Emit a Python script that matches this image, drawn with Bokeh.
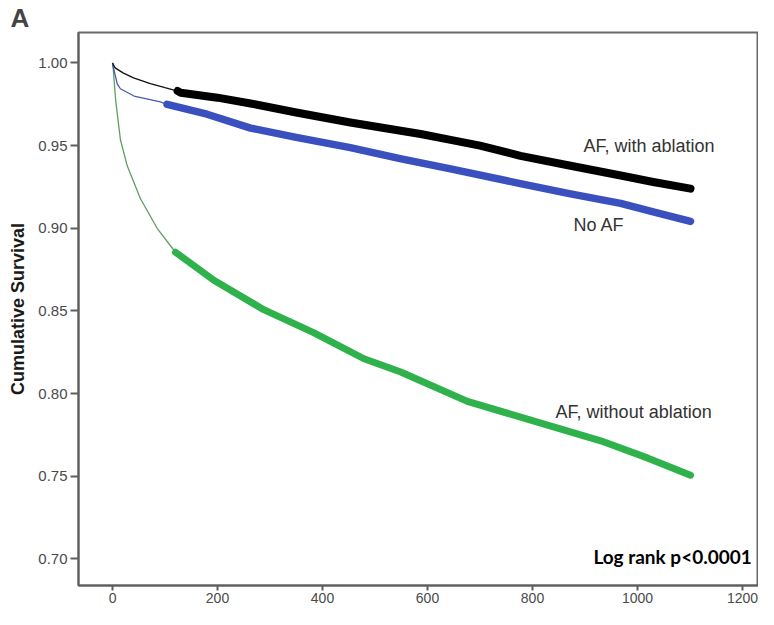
from bokeh.plotting import figure
from bokeh.models import Range1d, Label, FixedTicker, NumeralTickFormatter
from bokeh.embed import file_html
from bokeh.resources import INLINE

# ---- data ----
t_abl = [0, 5, 20, 40, 72, 100, 124, 130, 200, 263, 350, 453, 520, 587, 644, 700, 777, 870, 968, 1030, 1101]
s_abl = [1.0, 0.997, 0.994, 0.991, 0.9875, 0.985, 0.983, 0.982, 0.979, 0.9755, 0.970, 0.964, 0.9605, 0.957,
         0.9535, 0.950, 0.9438, 0.938, 0.9319, 0.928, 0.924]

t_noaf = [0, 1, 9, 15, 41, 91, 104, 180, 263, 350, 453, 550, 644, 777, 870, 968, 1030, 1101]
s_noaf = [1.0, 0.998, 0.9873, 0.9844, 0.980, 0.9765, 0.975, 0.969, 0.9606, 0.955, 0.9488, 0.942, 0.9359,
          0.927, 0.921, 0.9151, 0.910, 0.9042]

t_noabl = [0, 1, 6, 15, 28, 53, 85, 120, 193, 288, 383, 479, 549, 676, 803, 930, 1020, 1101]
s_noabl = [1.0, 0.998, 0.9774, 0.9537, 0.9378, 0.918, 0.900, 0.8855, 0.8686, 0.8508, 0.8369, 0.8211,
           0.8131, 0.7953, 0.7834, 0.7715, 0.761, 0.7507]

# time from which censor marks make the curve look thick
thick_from = {"abl": 124, "noaf": 104, "noabl": 120}

x_ticks = [0, 200, 400, 600, 800, 1000, 1200]
y_ticks = [0.70, 0.75, 0.80, 0.85, 0.90, 0.95, 1.00]

p = figure(width=758, height=609, output_backend="svg", toolbar_location=None,
           x_range=Range1d(-64.8, 1230.5), y_range=Range1d(0.68397, 1.01841),
           min_border_left=78, min_border_right=0, min_border_top=30, min_border_bottom=24)

p.title.text = "A"
p.title.text_font = "Liberation Sans"
p.title.text_font_style = "bold"
p.title.text_font_size = "26px"
p.title.align = "left"
p.title.offset = -68
p.title.standoff = 0

p.background_fill_color = "white"
p.border_fill_color = "white"
p.outline_line_color = "#6a6a6a"
p.outline_line_width = 2
p.xgrid.visible = False
p.ygrid.visible = False

for ax in (p.xaxis[0], p.yaxis[0]):
    ax.axis_line_color = "#5f5f5f"
    ax.axis_line_width = 2
    ax.major_tick_line_color = "#5f5f5f"
    ax.major_tick_line_width = 2
    ax.major_tick_in = 0
    ax.minor_tick_line_color = None
    ax.major_label_text_font = "Liberation Sans"
    ax.major_label_text_color = "#4a4a4a"

p.xaxis.ticker = FixedTicker(ticks=x_ticks)
p.yaxis.ticker = FixedTicker(ticks=y_ticks)
p.yaxis.formatter = NumeralTickFormatter(format="0.00")
p.xaxis.major_label_text_font_size = "14px"
p.yaxis.major_label_text_font_size = "15px"
p.xaxis.major_tick_out = 5
p.xaxis.major_label_standoff = 2
p.yaxis.major_tick_out = 8
p.yaxis.major_label_standoff = 3

p.yaxis.axis_label = "Cumulative Survival"
p.yaxis.axis_label_text_font = "Liberation Sans"
p.yaxis.axis_label_text_font_style = "bold"
p.yaxis.axis_label_text_font_size = "18px"
p.yaxis.axis_label_text_color = "#1a1a1a"
p.yaxis.axis_label_standoff = 7


def thick_part(ts, ss, t0):
    xs = [t for t in ts if t >= t0]
    ys = [s for t, s in zip(ts, ss) if t >= t0]
    return xs, ys


# thin curves
p.line(t_noabl, s_noabl, line_color="#5e9e62", line_width=1.3)
p.line(t_noaf, s_noaf, line_color="#4a5ab0", line_width=1.3)
p.line(t_abl, s_abl, line_color="#111111", line_width=1.3)

# thick (censor-mark) parts
xs, ys = thick_part(t_noabl, s_noabl, thick_from["noabl"])
p.line(xs, ys, line_color="#2fb24b", line_width=7, line_cap="round", line_join="round")
xs, ys = thick_part(t_noaf, s_noaf, thick_from["noaf"])
p.line(xs, ys, line_color="#3a50bf", line_width=7.5, line_cap="round", line_join="round")
xs, ys = thick_part(t_abl, s_abl, thick_from["abl"])
p.line(xs, ys, line_color="#000000", line_width=8, line_cap="round", line_join="round")

lab_style = dict(text_font="Liberation Sans", text_font_size="18px", text_color="#333333",
                 text_baseline="middle", text_align="left")
p.add_layout(Label(x=897, y=0.9495, text="AF, with ablation", **lab_style))
p.add_layout(Label(x=878, y=0.902, text="No AF", **lab_style))
p.add_layout(Label(x=844, y=0.7886, text="AF, without ablation", **lab_style))
p.add_layout(Label(x=916, y=0.7018, text="Log rank p<0.0001", text_font="Lato", text_font_style="bold",
                   text_font_size="19px", text_color="#000000", text_baseline="middle", text_align="left"))

open("out.html", "w").write(file_html(p, INLINE))
